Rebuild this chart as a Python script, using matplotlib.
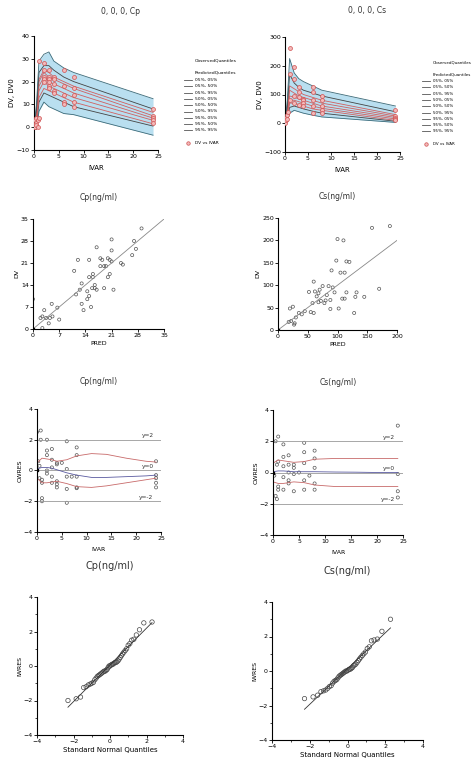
import matplotlib
matplotlib.use("Agg")
import matplotlib.pyplot as plt
import numpy as np
from statistics import NormalDist

W, H = 474, 773
fig = plt.figure(figsize=(W/100, H/100), dpi=100)

def ax_px(x0, y0, x1, y1):
    return fig.add_axes([x0/W, 1-y1/H, (x1-x0)/W, (y1-y0)/H])

def style(ax):
    for s in ["top", "right"]:
        ax.spines[s].set_visible(False)
    for s in ["left", "bottom"]:
        ax.spines[s].set_linewidth(0.8)
    ax.tick_params(labelsize=4.5, length=2, width=0.6, pad=1)

# ---------------- data ----------------
t_grid = [0, 0.5, 1, 2, 3, 4, 6, 8, 24]
cp_q = {  # predicted quantile lines
    "95%, 95%": [0, 10, 29, 32, 33, 29, 26, 24, 12.5],
    "95%, 50%": [0, 8, 24, 27, 27, 25, 22, 20, 8],
    "95%, 05%": [0, 6, 21, 25, 24, 22, 20, 18, 6.5],
    "50%, 95%": [0, 5, 20, 24, 22, 21, 19, 17, 5],
    "50%, 50%": [0, 4, 18, 22, 20, 19, 17, 15, 4],
    "50%, 05%": [0, 3, 16, 20, 18, 17, 15, 13, 3],
    "05%, 95%": [0, 2, 13, 17, 16, 15, 13, 11, 1.5],
    "05%, 50%": [0, 1, 11, 15, 14, 13, 11, 9, 0.5],
    "05%, 05%": [0, -1, 7, 11, 9, 8, 6, 5.5, -3.5],
}
cp_obs_t = [0, 0, 0.25, 0.25, 0.5, 0.5, 0.5, 0.75, 0.75, 1, 1, 2, 2, 2, 2, 2, 3, 3, 3, 3, 3, 3, 4, 4, 4, 4, 4, 6, 6, 6, 6, 6, 8, 8, 8, 8, 8, 24, 24, 24, 24, 24]
cp_obs_v = [0, 1, 3, 0, 4, 2, 1, 3, 0, 29, 4, 28, 25, 22, 21, 20, 25, 22, 21, 18, 17, 20, 22, 21, 19, 16, 15, 25, 18, 14, 11, 10, 22, 17, 14, 11, 9, 8, 5, 4, 3, 2]
cs_q = {
    "95%, 95%": [0, 80, 225, 175, 155, 145, 130, 115, 60],
    "95%, 50%": [0, 60, 170, 140, 125, 115, 105, 95, 40],
    "95%, 05%": [0, 45, 130, 120, 110, 100, 90, 80, 30],
    "50%, 95%": [0, 40, 115, 105, 95, 90, 80, 70, 25],
    "50%, 50%": [0, 30, 95, 90, 85, 80, 70, 60, 20],
    "50%, 05%": [0, 25, 80, 80, 75, 70, 60, 52, 15],
    "05%, 95%": [0, 20, 70, 70, 65, 60, 50, 45, 10],
    "05%, 50%": [0, 15, 55, 60, 55, 50, 42, 35, 7],
    "05%, 05%": [0, 8, 35, 45, 40, 35, 28, 22, 3],
}
cs_obs_t = [0, 0.25, 0.25, 0.5, 0.5, 0.75, 1, 1, 1, 2, 2, 2, 2, 3, 3, 3, 3, 4, 4, 4, 4, 6, 6, 6, 6, 6, 8, 8, 8, 8, 8, 24, 24, 24, 24, 24]
cs_obs_v = [0, 20, 10, 30, 15, 40, 260, 170, 80, 195, 155, 95, 70, 125, 110, 90, 65, 85, 80, 70, 60, 125, 110, 80, 60, 35, 95, 80, 60, 45, 35, 45, 25, 20, 15, 10]

cp_pred = [0, 0, 2, 2.5, 2.5, 3, 3.5, 4.2, 4.5, 5, 5.2, 6.5, 7, 11, 11.5, 12, 12.5, 13, 13, 13.5, 14.5, 14.5, 15, 15, 15, 15.5, 15.8, 16, 16, 16.5, 16.5, 17, 17, 18, 18, 18.5, 19, 19, 19.5, 20, 20, 20.5, 20.5, 21, 21, 21, 21.5, 23.5, 24, 26.5, 27, 27.5, 29]
cp_dv = [0, 9.5, 3.5, 4, 0.3, 6, 3.5, 1.8, 3.5, 8, 4, 6.8, 3, 18.5, 11, 22, 12.5, 14.5, 8, 6, 12, 9.5, 22, 16.5, 10.5, 7, 13, 17.5, 16.5, 14, 13, 26, 12.5, 22.5, 20, 22, 20, 13, 20, 16.5, 22.5, 22, 17.5, 21.5, 25, 28.5, 12.5, 21, 20.5, 23.5, 28, 25.5, 32]
cs_pred = [0, 18, 20, 22, 25, 27, 28, 30, 35, 40, 45, 52, 55, 58, 60, 60, 62, 65, 68, 68, 70, 72, 75, 78, 80, 82, 85, 88, 88, 90, 92, 95, 98, 100, 102, 105, 108, 110, 112, 112, 115, 115, 120, 128, 130, 132, 145, 158, 170, 188]
cs_dv = [0, 18, 48, 20, 52, 12, 15, 28, 38, 35, 42, 85, 40, 60, 108, 38, 86, 75, 82, 62, 90, 65, 98, 60, 66, 78, 98, 67, 47, 133, 95, 84, 155, 203, 48, 128, 70, 200, 128, 70, 84, 153, 152, 38, 74, 84, 74, 228, 92, 232]

cp_res_t = [0, 0, 0.25, 0.5, 0.5, 0.75, 0.75, 1, 1, 1, 1, 2, 2, 2, 2, 2, 3, 3, 3, 3, 3, 4, 4, 4, 4, 4, 5, 6, 6, 6, 6, 6, 7, 8, 8, 8, 8, 8, 24, 24, 24, 24, 24]
cp_res = [0, 2.5, 0.6, 0.3, -0.5, 2.6, 2.0, -0.6, -0.8, -1.8, -2.0, 2.0, 1.3, 1.0, 0.0, -0.2, 1.4, 0.7, 0.2, -0.4, -0.8, 0.4, 0.5, -0.7, -0.9, -1.1, 0.5, 1.9, 0.1, -0.4, -1.2, -2.1, -0.4, 1.5, 1.0, -0.4, -1.1, -1.15, 0.6, -0.3, -0.5, -0.8, -1.1]
cp_smooth_t = [0, 1, 2, 3, 4, 6, 8, 11, 14, 18, 22, 24]
cp_smooth_hi = [0.5, 0.8, 0.75, 0.7, 0.6, 0.7, 0.95, 1.1, 1.05, 0.8, 0.6, 0.55]
cp_smooth_mid = [0.1, 0.2, 0.2, 0.15, 0.05, -0.15, -0.3, -0.45, -0.45, -0.4, -0.35, -0.3]
cp_smooth_lo = [-0.5, -0.8, -0.8, -0.75, -0.7, -0.85, -1.05, -1.1, -1.0, -0.8, -0.6, -0.5]
cs_res_t = [0, 0.25, 0.5, 0.5, 0.75, 0.75, 1, 1, 1, 1, 2, 2, 2, 2, 2, 3, 3, 3, 3, 3, 4, 4, 4, 4, 5, 6, 6, 6, 6, 6, 7, 8, 8, 8, 8, 8, 24, 24, 24, 24]
cs_res = [0, -0.2, 2.0, -1.5, -1.7, 0.5, 2.3, 0.7, -0.9, -1.1, 1.8, 1.0, 0.4, -0.3, -1.1, 1.1, 0.5, 0.0, -0.5, -0.7, 0.5, 0.3, -0.1, -1.2, 0.0, 1.9, 1.3, 0.6, -0.5, -1.1, -0.2, 1.4, 0.9, 0.3, -0.7, -1.1, 3.0, -0.1, -1.2, -1.6]
cs_smooth_t = [0, 1, 2, 4, 6, 8, 12, 16, 20, 24]
cs_smooth_hi = [0.6, 0.8, 0.75, 0.65, 0.7, 0.85, 0.9, 0.9, 0.9, 0.9]
cs_smooth_mid = [0.05, 0.1, 0.1, 0.05, 0.05, 0.05, 0.03, 0.02, 0.0, 0.0]
cs_smooth_lo = [-0.6, -0.7, -0.7, -0.6, -0.65, -0.8, -0.9, -0.9, -0.9, -0.9]

cp_iwres = [-2.0, -1.9, -1.8, -1.25, -1.2, -1.1, -1.05, -1.0, -0.95, -0.8, -0.7, -0.6, -0.55, -0.5, -0.45, -0.4, -0.35, -0.3, -0.3, -0.25, -0.2, -0.1, 0.0, 0.0, 0.05, 0.1, 0.1, 0.15, 0.2, 0.2, 0.25, 0.3, 0.4, 0.5, 0.6, 0.7, 0.8, 0.9, 1.0, 1.2, 1.3, 1.5, 1.55, 1.8, 2.1, 2.5, 2.55]
cs_iwres = [-1.6, -1.5, -1.4, -1.2, -1.15, -1.1, -1.0, -0.9, -0.85, -0.7, -0.6, -0.55, -0.5, -0.4, -0.3, -0.25, -0.2, -0.15, -0.1, -0.05, 0.0, 0.0, 0.05, 0.1, 0.1, 0.15, 0.2, 0.3, 0.35, 0.4, 0.5, 0.6, 0.7, 0.8, 0.9, 1.0, 1.1, 1.3, 1.4, 1.75, 1.8, 1.85, 2.3, 3.0]

labels = ["05%, 05%", "05%, 50%", "05%, 95%", "50%, 05%", "50%, 50%", "50%, 95%", "95%, 05%", "95%, 50%", "95%, 95%"]

# ---------------- row 1: VPC ----------------
def vpc(ax, q, ot, ov, ylim, yticks, title, lx):
    style(ax)
    ax.fill_between(t_grid, q["05%, 05%"], q["95%, 95%"], color="#b9dff0", lw=0)
    for k in labels:
        c = "#444444"
        if k in ("50%, 05%", "50%, 50%", "50%, 95%", "95%, 05%", "05%, 95%"):
            c = "#d06060"
        ax.plot(t_grid, q[k], color=c if k not in ("05%, 05%", "95%, 95%") else "#3c6a78", lw=0.6)
    ax.scatter(ot, ov, s=8, facecolor="#f2b9b9", edgecolor="#d05050", lw=0.5, marker="o", zorder=3)
    ax.set_xlim(0, 25)
    ax.set_ylim(*ylim)
    ax.set_xticks([0, 5, 10, 15, 20, 25])
    ax.set_yticks(yticks)
    ax.set_xlabel("IVAR", fontsize=5, labelpad=4)
    ax.set_ylabel("DV, DV0", fontsize=5, labelpad=1)
    fig.text(lx, 1 - 11/H, title, fontsize=5.5, ha="center", va="center", color="#333333")

a1 = ax_px(34, 36, 158, 150)
vpc(a1, cp_q, cp_obs_t, cp_obs_v, (-10, 40), [-10, 0, 10, 20, 30, 40], "0, 0, 0, Cp", 120/W)
a2 = ax_px(285, 37, 400, 152)
vpc(a2, cs_q, cs_obs_t, cs_obs_v, (-100, 300), [-100, 0, 100, 200, 300], "0, 0, 0, Cs", 367/W)

def legend_block(x, y0, fs):
    fig.text(x + 3/W, 1 - y0/H, "ObservedQuantiles", fontsize=fs, va="center")
    fig.text(x + 3/W, 1 - (y0 + 12)/H, "PredictedQuantiles", fontsize=fs, va="center")
    for i, k in enumerate(labels):
        yy = 1 - (y0 + 19 + i * 6.3)/H
        fig.add_artist(plt.Line2D([x - 8/W, x], [yy, yy], color="#555555", lw=0.6))
        fig.text(x + 3/W, yy, k, fontsize=fs, va="center")
    yy = 1 - (y0 + 19 + 9 * 6.3 + 6)/H
    fig.add_artist(plt.Line2D([x - 4/W], [yy], marker="o", ms=2.5, mfc="#f2b9b9", mec="#d05050", mew=0.5))
    fig.text(x + 3/W, yy, "DV vs IVAR", fontsize=fs, va="center")

legend_block(192/W, 61, 3.2)
legend_block(430/W, 62, 2.9)

# ---------------- row 2: DV vs PRED ----------------
def dvpred(ax, p, d, lim, ticks, title):
    style(ax)
    ax.scatter(p, d, s=5, facecolor="none", edgecolor="#555555", lw=0.5)
    ax.plot([0, lim], [0, lim], color="#888888", lw=0.6)
    ax.plot([0], [0], "ks", ms=2)
    ax.set_xlim(0, lim)
    ax.set_ylim(0, ticks[-1])
    ax.set_xticks(ticks if lim == ticks[-1] else [0, 50, 100, 150, 200])
    ax.set_yticks(ticks)
    ax.set_xlabel("PRED", fontsize=4.5, labelpad=2)
    ax.set_ylabel("DV", fontsize=4.5, labelpad=1)
    ax.set_title(title, fontsize=5.5, pad=14, color="#333333")

b1 = ax_px(33, 219, 164, 329)
dvpred(b1, cp_pred, cp_dv, 35, [0, 7, 14, 21, 28, 35], "Cp(ng/ml)")
b2 = ax_px(278, 218, 397, 330)
dvpred(b2, cs_pred, cs_dv, 200, [0, 50, 100, 150, 200, 250], "Cs(ng/ml)")

# ---------------- row 3: CWRES ----------------
def cwres(ax, t, r, st, hi, mid, lo, title):
    style(ax)
    for yv, lab in [(2, "y=2"), (0, "y=0"), (-2, "y=-2")]:
        ax.axhline(yv, color="#999999", lw=0.6)
        ax.text(23.5, yv + 0.1, lab, fontsize=4.2, ha="right", va="bottom", color="#333333")
    ax.scatter(t, r, s=5, facecolor="none", edgecolor="#555555", lw=0.5)
    ax.plot(st, hi, color="#c86a6a", lw=0.6)
    ax.plot(st, lo, color="#c86a6a", lw=0.6)
    ax.plot(st, mid, color="#5a5aa0", lw=0.6)
    ax.plot([0], [0], "ks", ms=2)
    ax.set_xlim(0, 25)
    ax.set_ylim(-4, 4)
    ax.set_xticks([0, 5, 10, 15, 20, 25])
    ax.set_yticks([-4, -2, 0, 2, 4])
    ax.set_xlabel("IVAR", fontsize=4.5, labelpad=4)
    ax.set_ylabel("CWRES", fontsize=4.5, labelpad=1)
    ax.set_title(title, fontsize=5.5, pad=18, color="#333333")

c1 = ax_px(37, 409, 161, 532)
cwres(c1, cp_res_t, cp_res, cp_smooth_t, cp_smooth_hi, cp_smooth_mid, cp_smooth_lo, "Cp(ng/ml)")
c2 = ax_px(273, 410, 403, 535)
cwres(c2, cs_res_t, cs_res, cs_smooth_t, cs_smooth_hi, cs_smooth_mid, cs_smooth_lo, "Cs(ng/ml)")

# ---------------- row 4: QQ ----------------
def qq(ax, vals, title):
    style(ax)
    v = sorted(vals)
    n = len(v)
    nd = NormalDist()
    x = [nd.inv_cdf((i + 0.5) / n) for i in range(n)]
    ax.scatter(x, v, s=10, facecolor="none", edgecolor="#444444", lw=0.5)
    sl, ic = np.polyfit(x, v, 1)
    xx = np.array([x[0], x[-1]])
    ax.plot(xx, sl * xx + ic, color="#333333", lw=0.6)
    ax.set_xlim(-4, 4)
    ax.set_ylim(-4, 4)
    ax.set_xticks([-4, -2, 0, 2, 4])
    ax.set_xticks([-3, -1, 1, 3], minor=True)
    ax.set_yticks([-4, -2, 0, 2, 4])
    ax.set_yticks([-3, -1, 1, 3], minor=True)
    ax.tick_params(which="minor", length=1.5, width=0.5)
    ax.set_xlabel("Standard Normal Quantiles", fontsize=5, labelpad=2)
    ax.set_ylabel("IWRES", fontsize=4.5, labelpad=1)
    ax.set_title(title, fontsize=7, pad=20, color="#333333")

d1 = ax_px(37, 597, 183, 735)
qq(d1, cp_iwres, "Cp(ng/ml)")
d2 = ax_px(272, 602, 423, 740)
qq(d2, cs_iwres, "Cs(ng/ml)")

fig.savefig("out.png", dpi=100)
